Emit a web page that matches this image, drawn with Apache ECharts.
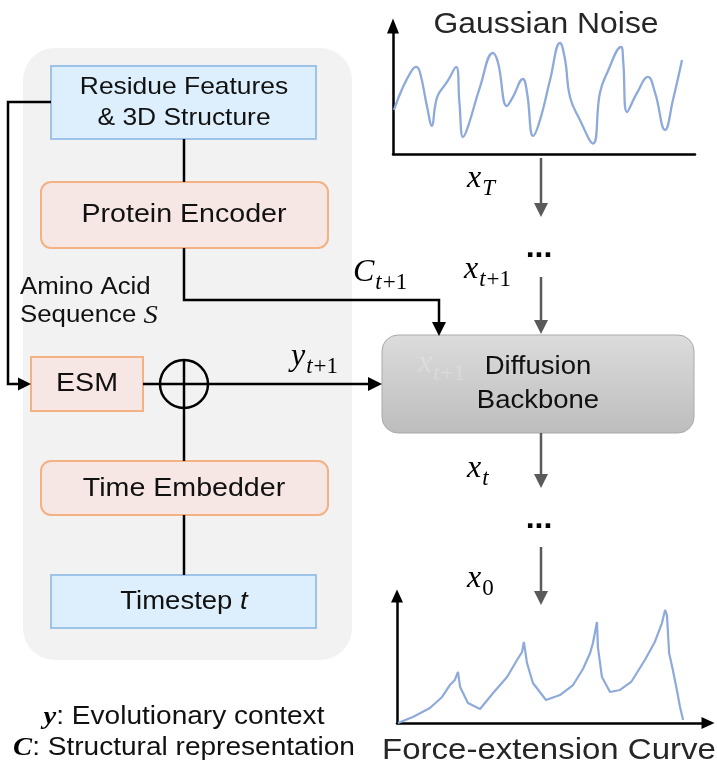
<!DOCTYPE html>
<html><head><meta charset="utf-8">
<script src="https://cdn.jsdelivr.net/npm/echarts@6/dist/echarts.min.js"></script>
<style>html,body{margin:0;padding:0;background:#fff}#main{width:717px;height:771px}</style>
</head><body><div id="main"></div>
<script>
// ---- data (axis units 0..100) ----
const noiseX = [0.3,3.3,6.3,7.6,8.9,11.3,12.9,13.9,14.9,17.9,20.9,22.0,23.2,24.8,28.8,33.1,34.8,37.7,39.7,43.0,44.4,46.4,48.7,52.0,55.3,57.0,58.6,61.9,66.2,68.5,70.9,75.5,76.2,77.5,80.8,84.4,86.8,90.1,92.7,95.7];
const noiseY = [34.4,52.3,65.6,68.0,64.1,36.7,21.9,36.7,46.1,56.3,68.0,40.0,13.3,21.1,52.3,78.9,71.1,37.5,44.5,58.6,47.7,14.1,26.6,57.8,86.7,73.4,44.5,26.6,8.2,47.7,63.3,83.6,73.4,32.8,47.7,60.2,47.7,18.8,42.2,73.4];
const forceX = [0.3,5.1,10.6,14.5,17.0,18.6,19.6,20.3,22.8,26.7,30.9,35.4,38.6,40.2,40.8,41.8,43.7,47.9,52.4,56.6,59.8,62.1,63.0,64.3,64.6,65.9,68.5,71.7,75.3,79.7,82.9,85.2,86.2,86.8,87.5,88.7,90.0,91.0,92.0];
const forceY = [0,4.7,11.8,20.5,29.9,33.9,40.2,28.3,15.7,11.0,23.6,36.2,49.6,55.9,63.8,47.2,31.5,18.1,22.0,29.9,42.5,55.1,63.0,79.5,59.8,36.2,24.4,26.0,32.3,49.6,63.8,78.7,89.0,85.0,55.1,41.7,26.0,12.6,2.4];

const titles = { noise: 'Gaussian Noise', force: 'Force-extension Curve' };
const boxText = {
  residue: ['Residue Features', '& 3D Structure'],
  encoder: 'Protein Encoder',
  esm: 'ESM',
  time: 'Time Embedder',
  step: 'Timestep ',
  backbone: ['Diffusion', 'Backbone'],
  amino: ['Amino Acid', 'Sequence '],
  legend: [['y', ': Evolutionary context'], ['C', ': Structural representation']]
};

const SANS = '"Liberation Sans", Arial, Helvetica, sans-serif';
const SERIF = '"Liberation Serif", "DejaVu Serif", serif';
const SX = 1.1;
const mctx = document.createElement('canvas').getContext('2d');
function tw(font, s) { mctx.font = font; return mctx.measureText(s).width; }

function sans(x, y, text, size, align, extra) {
  const a = align || 'center';
  return { type: 'text', x: x, y: y, scaleX: SX, z: 30,
    style: Object.assign({ text: text, fontSize: size, fontFamily: SANS, fill: '#111',
      align: a, verticalAlign: 'middle', textAlign: a, textVerticalAlign: 'middle' }, extra || {}) };
}
function plain(x, y, text, font, fill, align) {
  const a = align || 'left';
  return { type: 'text', x: x, y: y, z: 30,
    style: { text: text, font: font, fill: fill, align: a, verticalAlign: 'middle', textAlign: a, textVerticalAlign: 'middle' } };
}
// math label: main italic glyph + subscript (italic part + upright part)
function math(lx, base, main, subI, subN, fill) {
  const MS = 32, SS = 23;
  const mf = 'italic ' + MS + 'px ' + SERIF;
  const sfI = 'italic ' + SS + 'px ' + SERIF, sfN = SS + 'px ' + SERIF;
  const els = [plain(lx, base - 0.34 * MS, main, mf, fill)];
  let sx = lx + tw(mf, main) + 1;
  const sb = base + 8 - 0.34 * SS;
  if (subI) { els.push(plain(sx, sb, subI, sfI, fill)); sx += tw(sfI, subI) + 1; }
  if (subN) { els.push(plain(sx, sb, subN, sfN, fill)); }
  return els;
}
function rect(x, y, w, h, r, fill, stroke, lw, z) {
  return { type: 'rect', z: z || 10, shape: { x: x, y: y, width: w, height: h, r: r },
    style: { fill: fill, stroke: stroke || null, lineWidth: lw || 0 } };
}
function line(pts, color, w) {
  return { type: 'polyline', z: 15, shape: { points: pts }, style: { stroke: color, lineWidth: w, fill: null } };
}
function head(tx, ty, dir, color, len, half) {
  let pts;
  if (dir === 'down') pts = [[tx, ty], [tx - half, ty - len], [tx + half, ty - len]];
  else pts = [[tx, ty], [tx - len, ty - half], [tx - len, ty + half]];
  return { type: 'polygon', z: 16, shape: { points: pts }, style: { fill: color } };
}

const BLK = '#000', GRY = '#5a5a5a';
const blueF = '#ddeffd', blueS = '#9dc3e6', pinkF = '#f6e7e5', pinkS = '#f4b183';
const els = [];
// grey panel
els.push(rect(23, 48, 329, 612, 32, '#f2f2f2', null, 0, 1));
// boxes
els.push(rect(51, 66, 265, 73, 0, blueF, blueS, 2));
els.push(rect(41, 182, 287, 66, 10, pinkF, pinkS, 2));
els.push(rect(31, 357, 112, 54, 0, pinkF, pinkS, 2));
els.push(rect(41, 461, 287, 54, 10, pinkF, pinkS, 2));
els.push(rect(51, 575, 265, 53, 0, blueF, blueS, 2));
els.push({ type: 'rect', z: 10, shape: { x: 382, y: 335, width: 312, height: 98, r: 16 },
  style: { fill: new echarts.graphic.LinearGradient(0, 0, 0, 1, [{ offset: 0, color: '#dcdcdc' }, { offset: 1, color: '#bdbdbd' }]),
    stroke: '#a9a9a9', lineWidth: 1 } });
// black connectors
els.push(line([[184, 139], [184, 182]], BLK, 2.5));
els.push(line([[184, 248], [184, 300], [439, 300], [439, 323]], BLK, 2.5));
els.push(head(439, 336, 'down', BLK, 14, 7));
els.push(line([[51, 102], [8, 102], [8, 384], [19, 384]], BLK, 2.5));
els.push(head(31, 384, 'right', BLK, 13, 6.5));
els.push(line([[143, 384], [370, 384]], BLK, 2.5));
els.push(head(382, 384, 'right', BLK, 14, 7));
els.push({ type: 'circle', z: 15, shape: { cx: 184, cy: 384, r: 24 }, style: { fill: null, stroke: BLK, lineWidth: 2.5 } });
els.push(line([[184, 360], [184, 461]], BLK, 2.5));
els.push(line([[184, 515], [184, 575]], BLK, 2.5));
// grey diffusion arrows
[[158, 217], [277, 334], [433, 488], [547, 605]].forEach(function (s) {
  els.push(line([[541, s[0]], [541, s[1] - 12]], GRY, 2.5));
  els.push(head(541, s[1], 'down', GRY, 14, 7));
});
// dots
els.push(plain(539, 248, '...', 'bold 32px ' + SANS, '#000', 'center'));
els.push(plain(539, 519, '...', 'bold 32px ' + SANS, '#000', 'center'));
// box texts
els.push(sans(184, 87, boxText.residue[0], 24));
els.push(sans(184, 118, boxText.residue[1], 24));
els.push(sans(184, 215, boxText.encoder, 26));
els.push(sans(87, 384, boxText.esm, 26));
els.push(sans(184, 489, boxText.time, 26));
els.push(sans(184, 602, '{a|' + boxText.step + '}{b|t}', 25, 'center', {
  rich: { a: { fontSize: 25, fontFamily: SANS, fill: '#111' }, b: { fontSize: 25, fontFamily: SANS, fontStyle: 'italic', fill: '#111' } } }));
els.push(sans(538, 367, boxText.backbone[0], 25));
els.push(sans(538, 401, boxText.backbone[1], 25));
els.push(sans(20, 288, boxText.amino[0], 23.5, 'left'));
els.push(sans(20, 316, '{a|' + boxText.amino[1] + '}{b|S}', 23.5, 'left', {
  rich: { a: { fontSize: 23.5, fontFamily: SANS, fill: '#111' }, b: { fontSize: 26, fontFamily: SERIF, fontStyle: 'italic', fill: '#111' } } }));
// titles
els.push(sans(546, 25, titles.noise, 29, 'center', { fill: '#262626' }));
els.push(sans(549, 751, titles.force, 30, 'center', { fill: '#262626' }));
// legend
boxText.legend.forEach(function (l, i) {
  els.push(sans(184, 717 + i * 31, '{m|' + l[0] + '}{t|' + l[1] + '}', 25.5, 'center', {
    rich: { m: { fontSize: 26, fontFamily: SERIF, fontStyle: 'italic', fontWeight: 'bold', fill: '#000' },
            t: { fontSize: 25.5, fontFamily: SANS, fill: '#111' } } }));
});
// math labels
math(467, 189, 'x', 'T', '', '#000').forEach(e => els.push(e));
math(464, 280, 'x', 't', '+1', '#000').forEach(e => els.push(e));
math(467, 479, 'x', 't', '', '#000').forEach(e => els.push(e));
math(467, 589, 'x', '', '0', '#000').forEach(e => els.push(e));
math(353, 283, 'C', 't', '+1', '#000').forEach(e => els.push(e));
math(291, 367, 'y', 't', '+1', '#000').forEach(e => els.push(e));
math(418, 374, 'x', 't', '+1', 'rgba(255,255,255,0.22)').forEach(e => els.push(e));

function axis(grid, arrow, size) {
  return { type: 'value', gridIndex: grid, min: 0, max: 100,
    axisLine: { show: true, onZero: false, symbol: arrow ? ['none', 'triangle'] : 'none', symbolSize: size,
      lineStyle: { color: '#000', width: 2.5 } },
    axisTick: { show: false }, axisLabel: { show: false }, splitLine: { show: false } };
}

const chart = echarts.init(document.getElementById('main'), null, { renderer: 'canvas' });
chart.setOption({
  animation: false,
  backgroundColor: '#fff',
  grid: [
    { left: 393, top: 26, width: 302, height: 128 },
    { left: 397, top: 596, width: 311, height: 127 }
  ],
  xAxis: [axis(0, false, [12, 15]), axis(1, true, [12, 13])],
  yAxis: [axis(0, true, [12, 15]), axis(1, true, [12, 13])],
  series: [
    { type: 'line', xAxisIndex: 0, yAxisIndex: 0, smooth: 0.45, showSymbol: false,
      data: noiseX.map((x, i) => [x, noiseY[i]]), lineStyle: { color: '#8eaadb', width: 2.3 } },
    { type: 'line', xAxisIndex: 1, yAxisIndex: 1, smooth: false, showSymbol: false,
      data: forceX.map((x, i) => [x, forceY[i]]), lineStyle: { color: '#8eaadb', width: 2.2 } }
  ],
  graphic: { elements: els }
});
</script></body></html>
